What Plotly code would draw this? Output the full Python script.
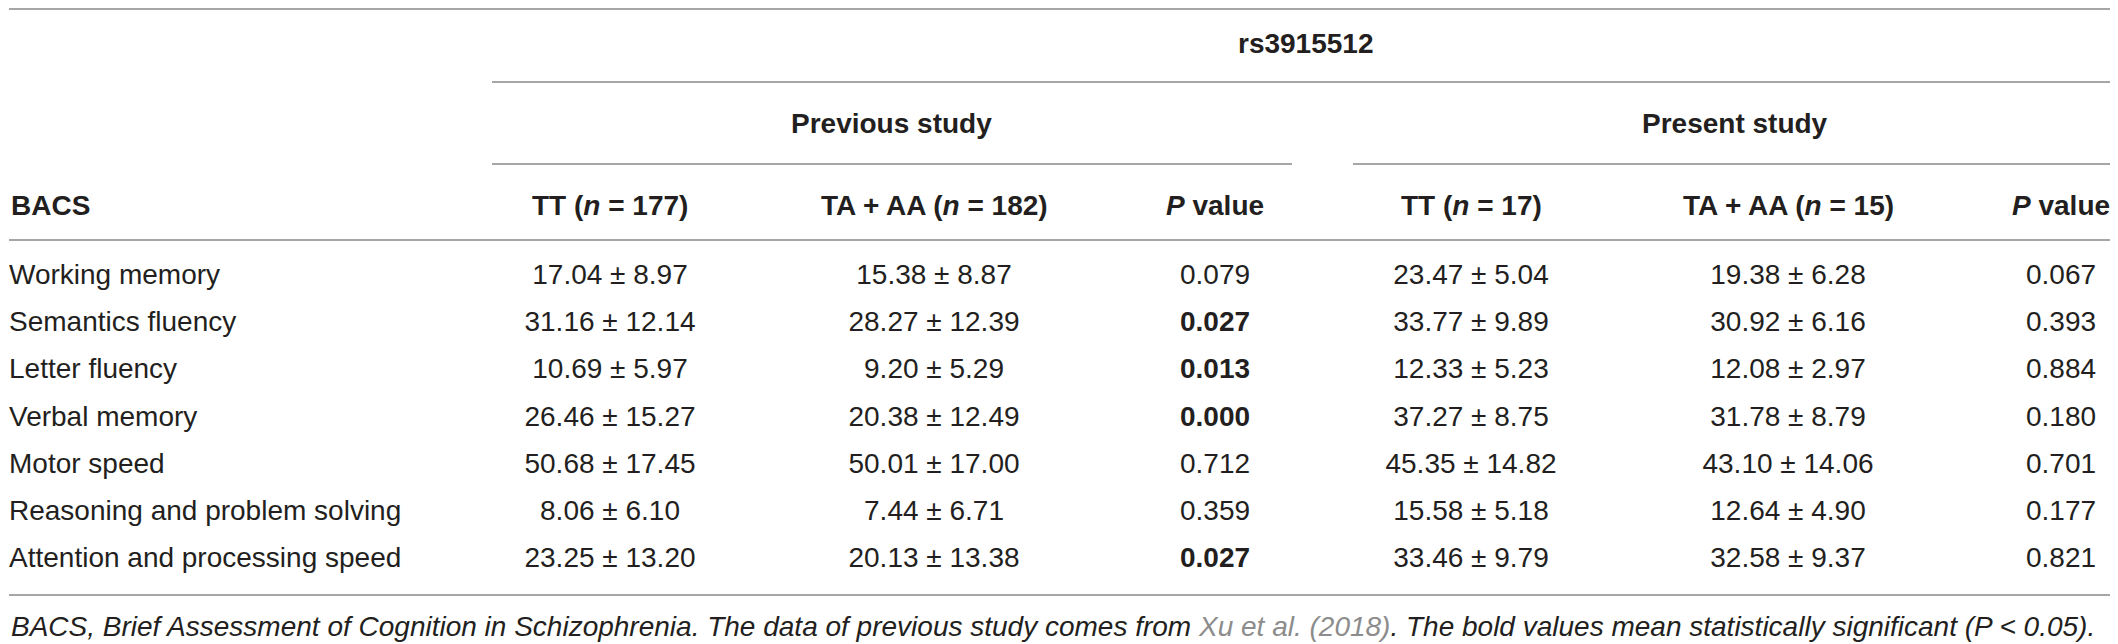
import plotly.graph_objects as go

# table values
snp = "rs3915512"
studies = ["Previous study", "Present study"]
row_labels = [
    "Working memory",
    "Semantics fluency",
    "Letter fluency",
    "Verbal memory",
    "Motor speed",
    "Reasoning and problem solving",
    "Attention and processing speed",
]
col_headers = [
    "<b>TT (<i>n</i> = 177)</b>",
    "<b>TA + AA (<i>n</i> = 182)</b>",
    "<b><i>P</i> value</b>",
    "<b>TT (<i>n</i> = 17)</b>",
    "<b>TA + AA (<i>n</i> = 15)</b>",
    "<b><i>P</i> value</b>",
]
prev_tt_mean = [17.04, 31.16, 10.69, 26.46, 50.68, 8.06, 23.25]
prev_tt_sd = [8.97, 12.14, 5.97, 15.27, 17.45, 6.10, 13.20]
prev_ta_mean = [15.38, 28.27, 9.20, 20.38, 50.01, 7.44, 20.13]
prev_ta_sd = [8.87, 12.39, 5.29, 12.49, 17.00, 6.71, 13.38]
prev_p = [0.079, 0.027, 0.013, 0.000, 0.712, 0.359, 0.027]
pres_tt_mean = [23.47, 33.77, 12.33, 37.27, 45.35, 15.58, 33.46]
pres_tt_sd = [5.04, 9.89, 5.23, 8.75, 14.82, 5.18, 9.79]
pres_ta_mean = [19.38, 30.92, 12.08, 31.78, 43.10, 12.64, 32.58]
pres_ta_sd = [6.28, 6.16, 2.97, 8.79, 14.06, 4.90, 9.37]
pres_p = [0.067, 0.393, 0.884, 0.180, 0.701, 0.177, 0.821]

footnote = ("<i>BACS, Brief Assessment of Cognition in Schizophrenia. The data of previous study comes from "
            "<span style='color:#8c8c8c'>Xu et al. (2018)</span>. The bold values mean statistically "
            "significant (P &lt; 0.05).</i>")

W, H = 2118, 644
PAD = 8  # page body margin the div sits inside
FONT = "Liberation Sans"
INK = "#231f20"
RULE = "#a6a6a6"
FS = 28
LEFT = 9

col_x = [610, 934, 1215, 1471, 1788, 2061]
row_y0, row_dy = 277, 47.2
row_y = [row_y0 + i * row_dy for i in range(len(row_labels))]


def fmt_ms(means, sds):
    return [f"{m:.2f} ± {s:.2f}" for m, s in zip(means, sds)]


def fmt_p(ps):
    return [f"<b>{p:.3f}</b>" if p < 0.05 else f"{p:.3f}" for p in ps]


columns = [
    fmt_ms(prev_tt_mean, prev_tt_sd),
    fmt_ms(prev_ta_mean, prev_ta_sd),
    fmt_p(prev_p),
    fmt_ms(pres_tt_mean, pres_tt_sd),
    fmt_ms(pres_ta_mean, pres_ta_sd),
    fmt_p(pres_p),
]

fig = go.Figure()

fig.add_trace(go.Scatter(
    x=[LEFT] * len(row_labels), y=row_y, mode="text", text=row_labels,
    textposition="middle right", textfont=dict(family=FONT, size=FS, color=INK),
    hoverinfo="skip", showlegend=False,
))
for cx, vals in zip(col_x, columns):
    fig.add_trace(go.Scatter(
        x=[cx] * len(vals), y=row_y, mode="text", text=vals,
        textposition="middle center", textfont=dict(family=FONT, size=FS, color=INK),
        hoverinfo="skip", showlegend=False,
    ))

ann = []
ann.append(dict(x=1305, y=43, text=f"<b>{snp}</b>"))
ann.append(dict(x=891, y=123, text=f"<b>{studies[0]}</b>"))
ann.append(dict(x=1735, y=123, text=f"<b>{studies[1]}</b>"))
ann.append(dict(x=LEFT, y=205, text="<b>BACS</b>", xanchor="left"))
for cx, h in zip(col_x, col_headers):
    ann.append(dict(x=cx, y=205, text=h))
for a in ann:
    a.setdefault("xanchor", "center")
    a.update(yanchor="middle", showarrow=False, xref="x", yref="y",
             font=dict(family=FONT, size=FS, color=INK))
ann.append(dict(x=LEFT, y=626, text=footnote, xanchor="left", yanchor="middle", showarrow=False,
                xref="x", yref="y", font=dict(family=FONT, size=28, color=INK)))

rules = [
    (LEFT, W, 9),
    (492, W, 82),
    (492, 1292, 164),
    (1353, W, 164),
    (LEFT, W, 240),
    (LEFT, W, 595),
]
shapes = [dict(type="line", x0=a, x1=b, y0=y, y1=y, xref="x", yref="y",
               line=dict(color=RULE, width=2)) for a, b, y in rules]

fig.update_layout(
    width=W - PAD, height=H - PAD, margin=dict(l=0, r=0, t=0, b=0),
    paper_bgcolor="white", plot_bgcolor="white",
    xaxis=dict(range=[PAD, W], visible=False, fixedrange=True),
    yaxis=dict(range=[H, PAD], visible=False, fixedrange=True),
    annotations=ann, shapes=shapes,
)

fig.write_html("out.html")
